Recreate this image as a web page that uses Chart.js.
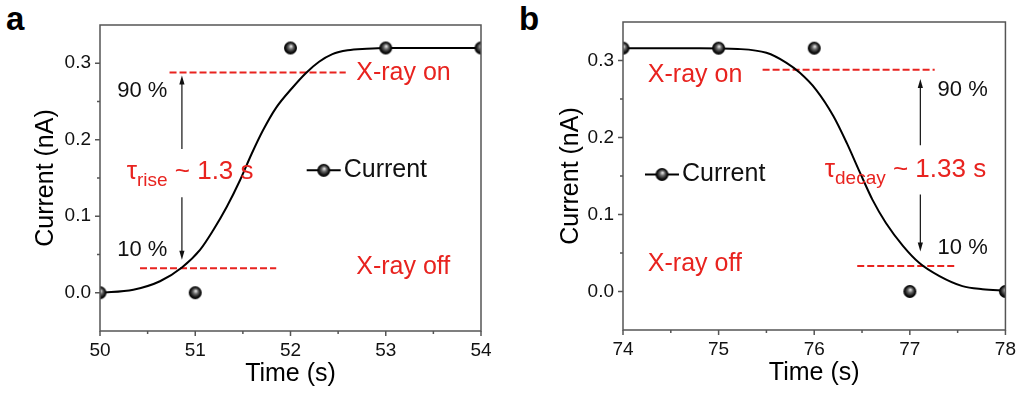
<!DOCTYPE html>
<html>
<head>
<meta charset="utf-8">
<script src="https://cdn.jsdelivr.net/npm/chart.js@4.4.1/dist/chart.umd.min.js"></script>
<style>
  html, body { margin: 0; padding: 0; background: #fff; }
  body { width: 1017px; height: 395px; position: relative; overflow: hidden;
         font-family: "Liberation Sans", Arial, sans-serif; }
  .panel { position: absolute; top: 0; height: 395px; }
  .tag { position: absolute; font: bold 33px "Liberation Sans", Arial, sans-serif; color: #000; line-height: 1; }
</style>
</head>
<body>
<div class="tag" style="left:6px; top:2px;">a</div>
<div class="tag" style="left:519px; top:2px;">b</div>
<div class="panel" style="left:0; width:500px;"><canvas id="rise"></canvas></div>
<div class="panel" style="left:520px; width:504px;"><canvas id="decay"></canvas></div>
<script>
// ---- measured photocurrent (nA) vs time (s) ----
const riseTime = [50, 51, 52, 53, 54];
const riseCurrent = [0, 0, 0.32, 0.32, 0.32];
const decayTime = [74, 75, 76, 77, 78];
const decayCurrent = [0.316, 0.316, 0.316, 0, 0];

// ---- fitted response curves ----
const riseFitTime    = [50.00, 50.35, 50.63, 50.86, 51.05, 51.19, 51.33, 51.47, 51.59, 51.71, 51.85, 52.02, 52.16, 52.30, 52.44, 52.60, 52.80, 53.00, 53.50, 54.00];
const riseFitCurrent = [0.000, 0.004, 0.015, 0.033, 0.056, 0.082, 0.112, 0.147, 0.181, 0.212, 0.242, 0.268, 0.287, 0.302, 0.312, 0.317, 0.319, 0.320, 0.320, 0.320];
const decayFitTime    = [74.00, 74.80, 75.20, 75.50, 75.71, 75.85, 76.02, 76.20, 76.34, 76.48, 76.61, 76.75, 76.93, 77.10, 77.31, 77.55, 77.76, 78.00];
const decayFitCurrent = [0.316, 0.316, 0.315, 0.310, 0.297, 0.284, 0.262, 0.228, 0.193, 0.154, 0.119, 0.089, 0.059, 0.037, 0.020, 0.007, 0.003, 0.001];

// ---- 90 % / 10 % threshold markers: [start time, end time] and level ----
const riseOnSpan = [50.73, 52.58],  riseOnLevel = 0.288;
const riseOffSpan = [50.42, 51.85], riseOffLevel = 0.032;
const decayOnSpan = [75.46, 77.26], decayOnLevel = 0.288;
const decayOffSpan = [76.45, 77.49], decayOffLevel = 0.033;

// ---- tick labels ----
const riseTicks = [50, 51, 52, 53, 54];
const decayTicks = [74, 75, 76, 77, 78];
const currentTicks = [0.0, 0.1, 0.2, 0.3];

const RED = '#e8231f';
const INK = '#111';
const FRAME = '#555';
const FONT = '"Liberation Sans", Arial, sans-serif';

// shaded ball used as the point marker
function makeBall(r) {
  const s = Math.ceil(r * 2 + 2);
  const c = document.createElement('canvas');
  c.width = s; c.height = s;
  const g = c.getContext('2d');
  const cx = s / 2, cy = s / 2;
  const grad = g.createRadialGradient(cx + 0.6, cy - 1.8, 0.3, cx, cy, r);
  grad.addColorStop(0, '#e6e6e6');
  grad.addColorStop(0.35, '#6a6a6a');
  grad.addColorStop(0.75, '#111');
  grad.addColorStop(1, '#000');
  g.fillStyle = grad;
  g.beginPath(); g.arc(cx, cy, r, 0, Math.PI * 2); g.fill();
  return c;
}
const ball = makeBall(6.5);

function pairs(xs, ys) { return xs.map((x, i) => ({ x, y: ys[i] })); }
function flat(span, level) { return span.map(x => ({ x, y: level })); }

// frame, minor/major tick marks, arrows, text labels and legend
function notesPlugin(n) {
  return {
    id: 'notes',
    afterDatasetsDraw(chart) {
      const { ctx, chartArea: a, scales: { x, y } } = chart;
      ctx.save();
      ctx.strokeStyle = FRAME;
      ctx.lineWidth = 1.5;
      ctx.strokeRect(a.left, a.top, a.right - a.left, a.bottom - a.top);

      ctx.beginPath();
      x.ticks.forEach(t => {
        const px = x.getPixelForValue(t.value);
        const major = Math.abs(t.value - Math.round(t.value)) < 1e-6;
        ctx.moveTo(px, a.bottom);
        ctx.lineTo(px, a.bottom + (major ? 5 : 3));
      });
      y.ticks.forEach(t => {
        const py = y.getPixelForValue(t.value);
        if (py > a.bottom - 1 || py < a.top + 1) return;
        const major = Math.abs(t.value * 10 - Math.round(t.value * 10)) < 1e-6;
        ctx.moveTo(a.left, py);
        ctx.lineTo(a.left - (major ? 5 : 3), py);
      });
      ctx.stroke();

      // arrows
      ctx.strokeStyle = INK;
      ctx.fillStyle = INK;
      ctx.lineWidth = 1.2;
      n.arrows.forEach(ar => {
        const px = x.getPixelForValue(ar.x);
        const p0 = y.getPixelForValue(ar.from);
        const p1 = y.getPixelForValue(ar.to);
        const dir = p1 < p0 ? -1 : 1;
        ctx.beginPath();
        ctx.moveTo(px, p0);
        ctx.lineTo(px, p1 - dir * 6);
        ctx.stroke();
        ctx.beginPath();
        ctx.moveTo(px, p1);
        ctx.lineTo(px - 2.6, p1 - dir * 9);
        ctx.lineTo(px + 2.6, p1 - dir * 9);
        ctx.closePath();
        ctx.fill();
      });

      // plain labels
      ctx.textBaseline = 'middle';
      ctx.textAlign = 'left';
      n.labels.forEach(l => {
        ctx.font = l.size + 'px ' + FONT;
        ctx.fillStyle = l.color;
        ctx.fillText(l.text, x.getPixelForValue(l.x), y.getPixelForValue(l.y));
      });

      // time constant with subscript
      const tx = x.getPixelForValue(n.tau.x);
      const ty = y.getPixelForValue(n.tau.y);
      ctx.textBaseline = 'alphabetic';
      ctx.fillStyle = RED;
      ctx.font = '26px ' + FONT;
      ctx.fillText('\u03C4', tx, ty);
      let cx = tx + ctx.measureText('\u03C4').width;
      ctx.font = '19px ' + FONT;
      ctx.fillText(n.tau.sub, cx, ty + 7);
      cx += ctx.measureText(n.tau.sub).width;
      ctx.font = '26px ' + FONT;
      ctx.fillText(n.tau.rest, cx, ty);

      // legend entry
      const lx = x.getPixelForValue(n.legend.x);
      const ly = y.getPixelForValue(n.legend.y);
      ctx.strokeStyle = '#000';
      ctx.lineWidth = 2;
      ctx.beginPath();
      ctx.moveTo(lx, ly); ctx.lineTo(lx + 34, ly);
      ctx.stroke();
      ctx.drawImage(ball, lx + 17 - ball.width / 2, ly - ball.height / 2);
      ctx.font = '25px ' + FONT;
      ctx.fillStyle = INK;
      ctx.textBaseline = 'middle';
      ctx.fillText('Current', lx + 37, ly);
      ctx.restore();
    }
  };
}

function makeChart(id, cfg) {
  const axisFont = { family: FONT, size: 19 };
  const titleFont = { family: FONT, size: 25 };
  return new Chart(document.getElementById(id), {
    type: 'scatter',
    data: {
      datasets: [
        { data: pairs(cfg.time, cfg.current), showLine: false, pointStyle: ball,
          pointRadius: 6.5, clip: 0 },
        { data: pairs(cfg.fitTime, cfg.fitCurrent), showLine: true, pointRadius: 0,
          borderColor: '#000', borderWidth: 2, cubicInterpolationMode: 'monotone', clip: 0 },
        { data: flat(cfg.onSpan, cfg.onLevel), showLine: true, pointRadius: 0,
          borderColor: RED, borderWidth: 2, borderDash: [7, 3] },
        { data: flat(cfg.offSpan, cfg.offLevel), showLine: true, pointRadius: 0,
          borderColor: RED, borderWidth: 2, borderDash: [7, 3] }
      ]
    },
    options: {
      responsive: true,
      maintainAspectRatio: false,
      animation: false,
      events: [],
      layout: { padding: cfg.padding },
      plugins: { legend: { display: false }, tooltip: { enabled: false } },
      scales: {
        x: {
          type: 'linear', min: cfg.ticks[0], max: cfg.ticks[cfg.ticks.length - 1],
          grid: { display: false, drawTicks: false }, border: { display: false },
          ticks: { stepSize: 0.5, autoSkip: false, maxRotation: 0, padding: 8,
                   color: INK, font: axisFont,
                   callback: v => cfg.ticks.includes(v) ? String(v) : '' },
          title: { display: true, text: 'Time (s)', color: '#000', font: titleFont,
                   padding: { top: 0, bottom: cfg.xTitlePad } },
          afterFit: s => { s.height = cfg.xAxisHeight; }
        },
        y: {
          type: 'linear', min: -0.05, max: 0.35,
          grid: { display: false, drawTicks: false }, border: { display: false },
          ticks: { stepSize: 0.05, autoSkip: false, padding: 9, color: INK, font: axisFont,
                   callback: v => {
                     const hit = currentTicks.find(t => Math.abs(t - v) < 1e-6);
                     return hit === undefined ? '' : hit.toFixed(1);
                   } },
          title: { display: true, text: 'Current (nA)', color: '#000', font: titleFont,
                   padding: { top: cfg.yTitlePad, bottom: 0 } },
          afterFit: s => { s.width = cfg.yAxisWidth; }
        }
      }
    },
    plugins: [notesPlugin(cfg.notes)]
  });
}

makeChart('rise', {
  time: riseTime, current: riseCurrent,
  fitTime: riseFitTime, fitCurrent: riseFitCurrent,
  onSpan: riseOnSpan, onLevel: riseOnLevel,
  offSpan: riseOffSpan, offLevel: riseOffLevel,
  ticks: riseTicks,
  padding: { left: 0, right: 19, top: 25, bottom: 0 },
  yAxisWidth: 100, xAxisHeight: 64, yTitlePad: 31, xTitlePad: 6,
  notes: {
    labels: [
      { text: 'X-ray on', x: 52.69, y: 0.287, size: 25, color: RED },
      { text: 'X-ray off', x: 52.69, y: 0.034, size: 25, color: RED },
      { text: '90 %', x: 50.18, y: 0.264, size: 22, color: INK },
      { text: '10 %', x: 50.18, y: 0.056, size: 22, color: INK }
    ],
    arrows: [
      { x: 50.86, from: 0.188, to: 0.284 },
      { x: 50.86, from: 0.125, to: 0.043 }
    ],
    tau: { x: 50.28, y: 0.149, sub: 'rise', rest: ' ~ 1.3 s' },
    legend: { x: 52.17, y: 0.160 }
  }
});

makeChart('decay', {
  time: decayTime, current: decayCurrent,
  fitTime: decayFitTime, fitCurrent: decayFitCurrent,
  onSpan: decayOnSpan, onLevel: decayOnLevel,
  offSpan: decayOffSpan, offLevel: decayOffLevel,
  ticks: decayTicks,
  padding: { left: 0, right: 12, top: 22, bottom: 0 },
  yAxisWidth: 103, xAxisHeight: 65, yTitlePad: 36, xTitlePad: 7,
  notes: {
    labels: [
      { text: 'X-ray on', x: 74.26, y: 0.281, size: 25, color: RED },
      { text: 'X-ray off', x: 74.26, y: 0.035, size: 25, color: RED },
      { text: '90 %', x: 77.29, y: 0.262, size: 22, color: INK },
      { text: '10 %', x: 77.29, y: 0.057, size: 22, color: INK }
    ],
    arrows: [
      { x: 77.11, from: 0.190, to: 0.276 },
      { x: 77.11, from: 0.126, to: 0.052 }
    ],
    tau: { x: 76.11, y: 0.149, sub: 'decay', rest: ' ~ 1.33 s' },
    legend: { x: 74.23, y: 0.152 }
  }
});
</script>
</body>
</html>
